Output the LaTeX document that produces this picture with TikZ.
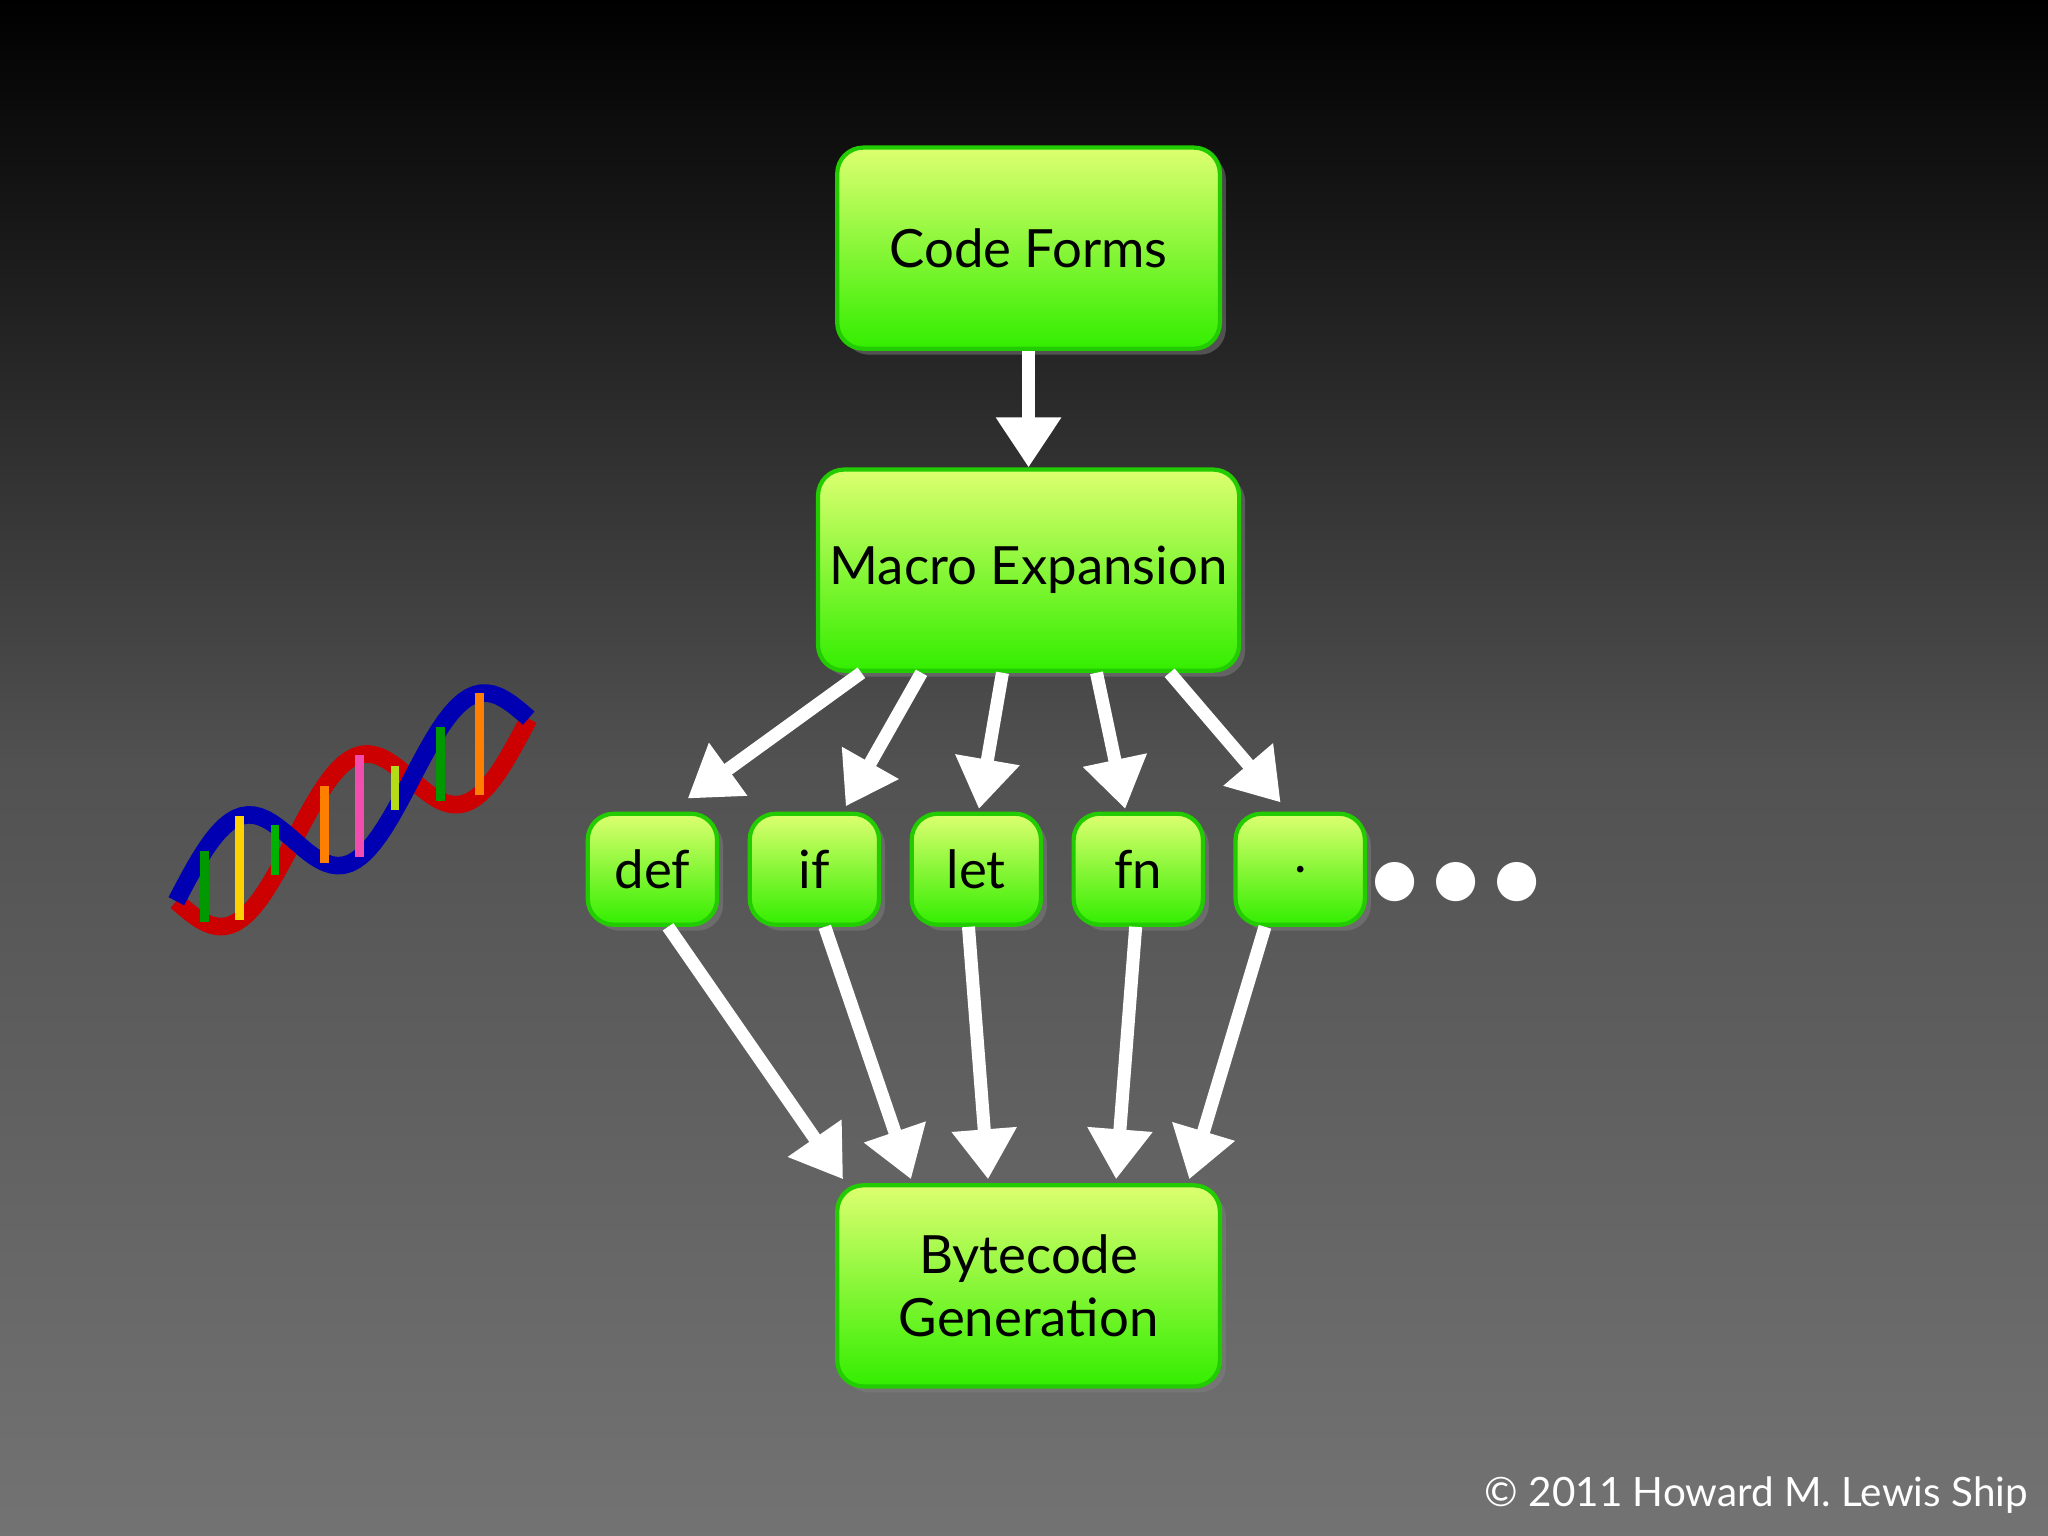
\documentclass[tikz,border=0pt]{standalone}
\usepackage{fontspec}
\setmainfont{Lato}
\usetikzlibrary{arrows.meta,calc,shadows}
\definecolor{gtop}{HTML}{DDFF70}
\definecolor{gbot}{HTML}{33EE00}
\definecolor{gline}{HTML}{22CC00}
\tikzset{
  gbox/.style={draw=gline,line width=1.2pt,rounded corners=0.26cm,top color=gtop,bottom color=gbot,
    drop shadow={opacity=0.5,shadow xshift=0.06cm,shadow yshift=-0.06cm},
    font=\fontsize{15}{18}\selectfont,align=center,text=black},
  bigbox/.style={gbox,minimum width=3.827cm,minimum height=2.011cm},
  smallbox/.style={gbox,minimum width=1.293cm,minimum height=1.11cm},
  warrow/.style={draw=white,line width=3.7pt,-{Triangle[length=0.5cm,width=0.62cm]}}
}
\begin{document}
\begin{tikzpicture}[x=0.013061cm,y=-0.013061cm]
\shade[top color=black,bottom color=black!55!white,middle color=black!68!white,shading angle=0] (0,0) rectangle (1568,1176);
\useasboundingbox (0,0) rectangle (1568,1176);
% DNA helix
\begin{scope}[line width=5pt]
\draw[red!80!black,domain=0:1,samples=60] plot ({135+270*\x},{690-140*\x+40*sin(540*\x)});
\draw[blue!70!black,domain=0:1,samples=60] plot ({135+270*\x},{690-140*\x-40*sin(540*\x)});
\foreach \t/\c in {0.08/green!60!black,0.18/yellow!70!orange,0.28/green!70!black,0.42/orange,0.52/magenta!70,0.62/yellow!70!green,0.75/green!60!black,0.86/orange}
  \draw[\c,line width=2.5pt] ({135+270*\t},{690-140*\t+40*sin(540*\t)}) -- ({135+270*\t},{690-140*\t-40*sin(540*\t)});
\end{scope}
\node[bigbox] (cf) at (787.5,190) {Code Forms};
\node[bigbox] (me) at (787.5,436.5) {Macro Expansion};
\node[bigbox] (bg) at (787.5,984.5) {Bytecode\\Generation};
\node[smallbox] (def) at (499.5,665.5) {def};
\node[smallbox] (if) at (623.5,665.5) {if};
\node[smallbox] (let) at (747.5,665.5) {let};
\node[smallbox] (fn) at (871.5,665.5) {fn};
\node[smallbox] (dot) at (995.5,665.5) {.};
\node[text=white,font=\fontsize{30}{30}\selectfont] (ell) at (1115,680) {•••};
\node[text=white,font=\fontsize{11.5}{14}\selectfont,anchor=east] (cr) at (1562,1145) {© 2011 Howard M. Lewis Ship};
\draw[warrow] (cf.south) -- (me.north);
\draw[warrow] ($(me.south)+(-128,0)$) -- ($(def.north)+(27,-10)$);
\draw[warrow] ($(me.south)+(-82,0)$) -- ($(if.north)+(24,-4)$);
\draw[warrow] ($(me.south)+(-20,0)$) -- ($(let.north)+(2,-2)$);
\draw[warrow] ($(me.south)+(52,0)$) -- ($(fn.north)+(-10,-2)$);
\draw[warrow] ($(me.south)+(108,0)$) -- ($(dot.north)+(-15,-7)$);
\draw[warrow] ($(def.south)+(12,0)$) -- ($(bg.north)+(-142,-3)$);
\draw[warrow] ($(if.south)+(8,0)$) -- ($(bg.north)+(-90,-3)$);
\draw[warrow] ($(let.south)+(-6,0)$) -- ($(bg.north)+(-31,-3)$);
\draw[warrow] ($(fn.south)+(-2,0)$) -- ($(bg.north)+(67,-3)$);
\draw[warrow] ($(dot.south)+(-27,0)$) -- ($(bg.north)+(123,-3)$);
\end{tikzpicture}
\end{document}
